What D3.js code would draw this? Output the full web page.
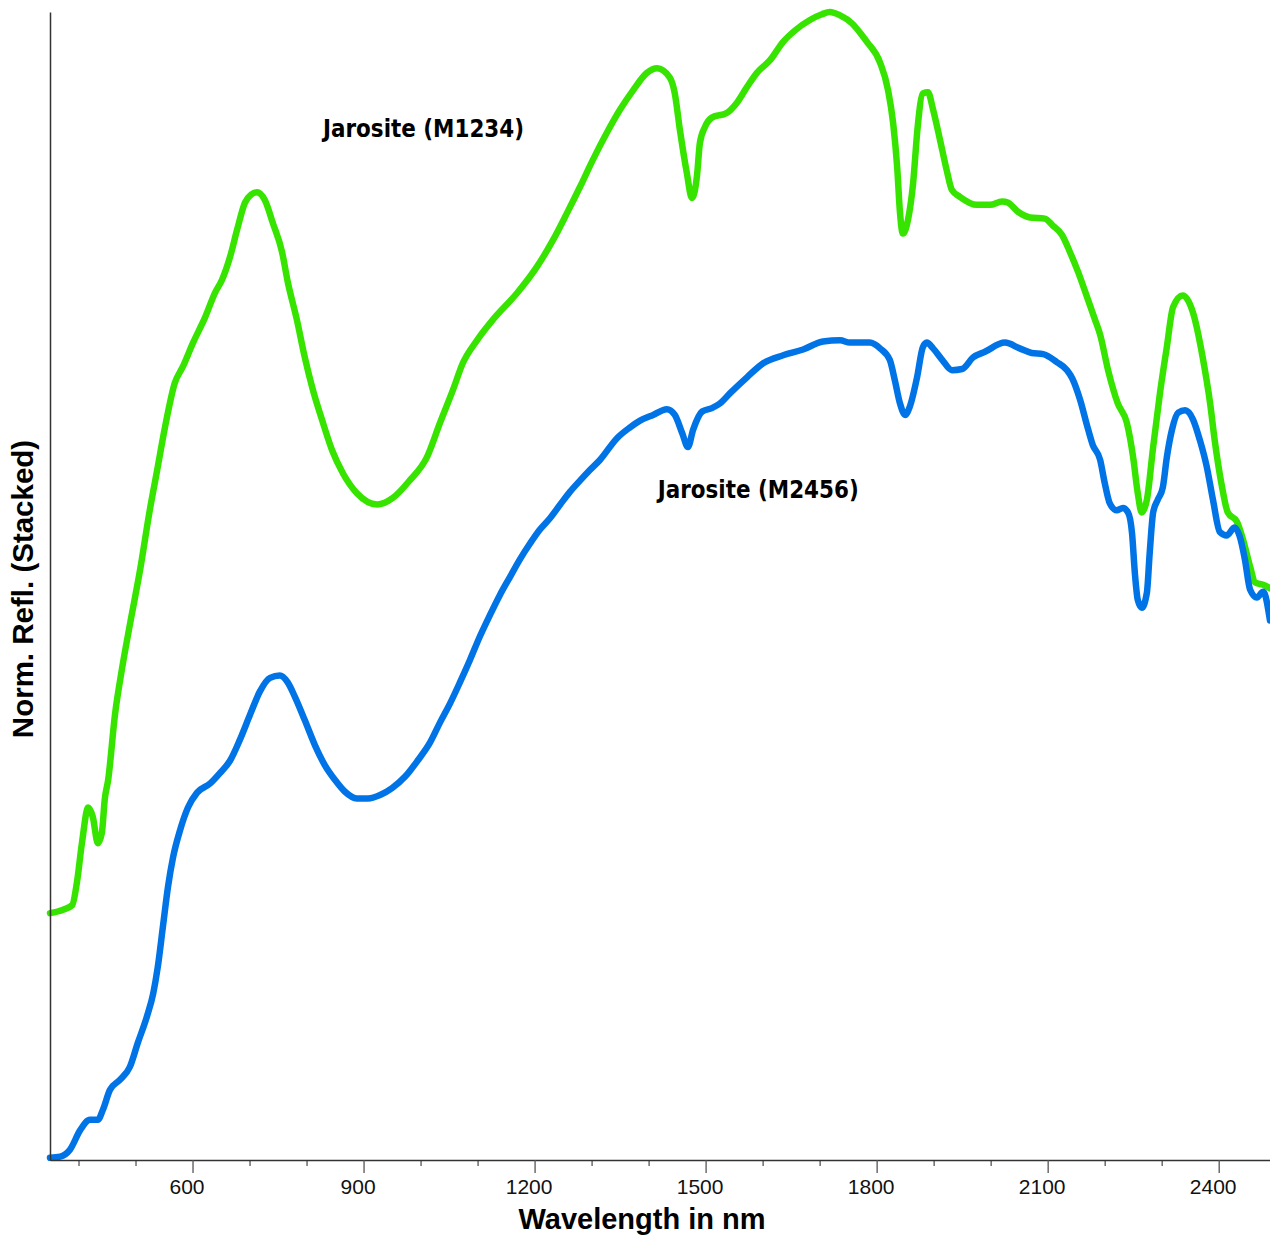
<!DOCTYPE html>
<html>
<head>
<meta charset="utf-8">
<script src="https://cdn.jsdelivr.net/npm/d3@7"></script>
<style>
  body { margin: 0; background: #fff; }
  svg { display: block; }
</style>
</head>
<body>
<div id="chart"></div>
<script>
// wavelength (nm) / stacked normalised reflectance
const wlM1234 = [350,373,389,397,406,417,425,434,441,446,452,464,476,490,508,525,538,552,569,583,601,622,639,652,666,678,692,703,713,727,741,757,767,783,797,811,827,845,864,888,924,952,981,1011,1034,1057,1074,1099,1127,1169,1204,1232,1257,1280,1302,1327,1350,1373,1397,1415,1437,1446,1455,1467,1476,1485,1490,1499,1511,1537,1555,1573,1590,1613,1636,1657,1683,1704,1718,1736,1757,1774,1783,1806,1820,1829,1836,1841,1846,1855,1864,1872,1881,1890,1899,1911,1923,1932,1946,1976,1999,2020,2030,2048,2069,2095,2109,2125,2139,2153,2171,2183,2192,2206,2223,2239,2250,2258,2265,2274,2285,2297,2309,2320,2337,2355,2372,2385,2393,2406,2416,2432,2443,2455,2464,2478,2490];
const reflM1234 = [21.5,21.8,22.2,24.1,27.6,30.7,29.9,27.6,28.5,31.4,33.1,38.8,42.7,46.6,51.4,56.6,60.1,63.9,67.7,69.1,71.2,73.4,75.5,76.7,78.7,81.0,83.4,84.1,84.3,83.6,81.6,79.1,76.5,73.2,69.9,67.1,64.5,61.8,59.8,58.1,57.1,57.7,59.2,61.2,64.2,67.1,69.4,71.4,73.2,75.5,77.8,80.1,82.5,84.8,87.1,89.5,91.5,93.2,94.7,95.1,94.3,92.9,89.7,86.0,83.8,85.8,88.6,90.0,90.8,91.2,92.1,93.5,94.7,95.8,97.4,98.4,99.3,99.8,100.0,99.7,99.0,98.0,97.4,95.6,93.2,90.3,86.5,82.5,80.7,81.9,85.1,90.0,92.9,93.0,91.5,88.9,86.2,84.5,83.9,83.2,83.2,83.5,83.4,82.6,82.1,82.0,81.4,80.6,79.1,77.4,74.9,73.2,71.9,68.8,65.9,64.2,61.2,58.1,56.4,57.5,62.1,66.8,70.8,74.3,75.3,73.8,69.9,65.9,62.7,58.6,56.4,55.6,54.0,51.7,50.3,50.1,49.8];

const wlM2456 = [350,368,385,403,420,434,443,455,473,490,504,520,531,539,548,557,566,578,592,608,631,648,666,683,701,718,736,753,767,780,797,815,832,850,867,888,908,929,950,973,995,1017,1034,1052,1069,1087,1104,1122,1139,1157,1174,1192,1209,1227,1245,1262,1280,1297,1315,1345,1367,1385,1408,1432,1446,1459,1469,1478,1494,1511,1525,1543,1573,1601,1636,1671,1706,1736,1753,1788,1806,1823,1832,1841,1850,1858,1871,1881,1888,1899,1915,1932,1950,1969,1990,2025,2051,2072,2092,2116,2134,2143,2157,2169,2179,2192,2200,2209,2221,2232,2241,2248,2253,2258,2265,2274,2279,2285,2293,2302,2309,2318,2329,2341,2355,2367,2379,2390,2402,2414,2428,2437,2446,2455,2467,2478,2490];
const reflM2456 = [0.2,0.3,0.9,2.6,3.5,3.5,4.4,6.1,7.0,8.1,10.2,12.5,14.5,16.8,20.3,23.8,26.4,28.7,30.7,32.0,32.8,33.7,34.8,36.6,38.8,40.8,42.0,42.2,41.6,40.3,38.3,36.1,34.4,33.1,32.1,31.5,31.5,31.8,32.4,33.4,34.8,36.4,38.1,39.8,41.6,43.6,45.6,47.5,49.2,50.8,52.3,53.7,54.9,55.9,57.1,58.2,59.2,60.1,61.0,62.9,63.8,64.4,64.9,65.4,64.9,63.3,62.1,63.6,65.2,65.5,65.9,66.8,68.2,69.4,70.1,70.6,71.3,71.4,71.2,71.2,70.7,69.7,67.9,65.9,64.9,65.6,68.2,70.8,71.2,70.7,69.7,68.8,68.9,69.9,70.4,71.2,70.7,70.3,70.2,69.5,68.8,68.1,66.2,64.0,62.3,61.0,59.0,57.2,56.6,56.8,56.4,54.6,51.1,48.8,48.1,49.4,52.9,56.4,57.5,58.6,61.2,63.6,65.1,65.3,64.5,62.7,60.4,57.5,54.7,54.4,55.1,54.3,52.3,49.7,49.0,49.5,47.0];

const majorTicks = [600, 900, 1200, 1500, 1800, 2100, 2400];
const minorTicks = [400, 500, 700, 800, 1000, 1100, 1300, 1400, 1600, 1700, 1900, 2000, 2200, 2300];

const seriesNames = ["Jarosite (M1234)", "Jarosite (M2456)"];
const seriesColors = ["#36e400", "#0074e6"];
// label anchor points in data units (wavelength, reflectance)
const labelWl = [829, 1416];
const labelRefl = [89.1, 57.7];

const width = 1270;
const height = 1236;
const margin = { top: 12, right: 0, bottom: 76, left: 50 };

const svg = d3.select("#chart")
    .append("svg")
    .attr("width", width)
    .attr("height", height);

const x = d3.scaleLinear()
    .domain([350, 2490])
    .range([margin.left, width - margin.right]);

const y = d3.scaleLinear()
    .domain([0, 100])
    .range([height - margin.bottom, margin.top]);

const series = [
    wlM1234.map((w, i) => ({ wl: w, r: reflM1234[i] })),
    wlM2456.map((w, i) => ({ wl: w, r: reflM2456[i] }))
];

const line = d3.line()
    .x(d => x(d.wl))
    .y(d => y(d.r))
    .curve(d3.curveMonotoneX);

svg.selectAll(".spectrum")
    .data(series)
    .enter().append("path")
    .attr("class", "spectrum")
    .attr("d", line)
    .attr("fill", "none")
    .attr("stroke", (d, i) => seriesColors[i])
    .attr("stroke-width", 6.5)
    .attr("stroke-linejoin", "round")
    .attr("stroke-linecap", "round");

// axes
const xAxisMinor = d3.axisBottom(x)
    .tickValues(minorTicks)
    .tickSize(6)
    .tickSizeOuter(0)
    .tickFormat("");

const xAxis = d3.axisBottom(x)
    .tickValues(majorTicks)
    .tickSize(13)
    .tickSizeOuter(0)
    .tickPadding(6)
    .tickFormat(d3.format("d"));

svg.append("g")
    .attr("transform", `translate(0,${height - margin.bottom})`)
    .call(xAxisMinor)
    .call(g => g.select(".domain").remove())
    .selectAll("line").attr("stroke", "#555").attr("stroke-width", 1.3);

const gx = svg.append("g")
    .attr("transform", `translate(0,${height - margin.bottom})`)
    .call(xAxis);

gx.select(".domain").attr("stroke", "#333").attr("stroke-width", 1.5);
gx.selectAll(".tick line").attr("stroke", "#555").attr("stroke-width", 1.3);
gx.selectAll(".tick text")
    .attr("font-family", "'Liberation Sans', Arial, sans-serif")
    .attr("font-size", 21)
    .attr("fill", "#111")
    .attr("dx", -6);

const gy = svg.append("g")
    .attr("transform", `translate(${margin.left},0)`)
    .call(d3.axisLeft(y).tickValues([]).tickSizeOuter(0));

gy.select(".domain").attr("stroke", "#333").attr("stroke-width", 1.5);

// axis titles
svg.append("text")
    .attr("x", 642)
    .attr("y", 1229)
    .attr("text-anchor", "middle")
    .attr("font-family", "'Liberation Sans', Arial, sans-serif")
    .attr("font-weight", "bold")
    .attr("font-size", 29)
    .attr("fill", "#000")
    .text("Wavelength in nm");

svg.append("text")
    .attr("transform", "translate(33,589) rotate(-90)")
    .attr("text-anchor", "middle")
    .attr("font-family", "'Liberation Sans', Arial, sans-serif")
    .attr("font-weight", "bold")
    .attr("font-size", 29.5)
    .attr("fill", "#000")
    .text("Norm. Refl. (Stacked)");

// series labels
svg.selectAll(".series-label")
    .data(seriesNames)
    .enter().append("text")
    .attr("class", "series-label")
    .attr("x", (d, i) => x(labelWl[i]))
    .attr("y", (d, i) => y(labelRefl[i]))
    .attr("font-family", "'DejaVu Sans Condensed', 'DejaVu Sans', sans-serif")
    .attr("font-stretch", "condensed")
    .attr("font-weight", "bold")
    .attr("font-size", 25)
    .attr("textLength", 201)
    .attr("lengthAdjust", "spacingAndGlyphs")
    .attr("fill", "#000")
    .text(d => d);
</script>
</body>
</html>
